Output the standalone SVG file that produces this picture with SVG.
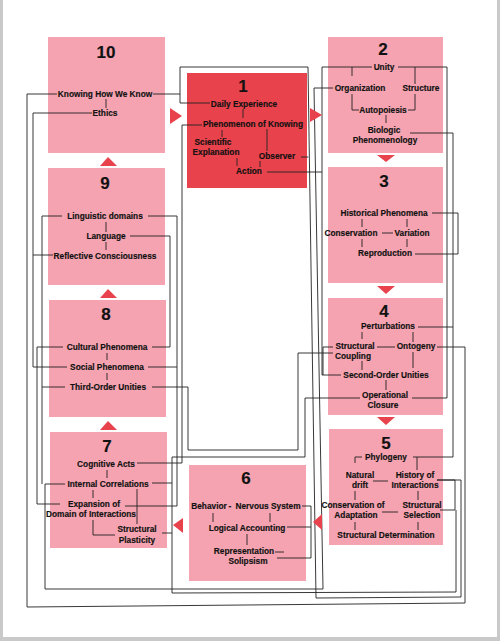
<svg xmlns="http://www.w3.org/2000/svg" width="500" height="641" viewBox="0 0 500 641">
<style>
.box{fill:#f5a3b0}
.red{fill:#e8434c}
.tri{fill:#e8434c}
text{font-family:"Liberation Sans",Arial,sans-serif;font-weight:bold;font-size:8.3px;fill:#111;stroke:#111;stroke-width:0.15;text-anchor:middle}
.num{font-size:17px}
.w{fill:none;stroke:#222;stroke-width:0.9}
</style>
<rect x="0" y="0" width="500" height="641" fill="#c9c9c9"/>
<rect x="3" y="0" width="494" height="637" fill="#ffffff"/>

<g id="n10">
<rect class="box" x="48" y="37" width="117" height="116"/>
<text class="num" x="106" y="58">10</text>
<text x="105" y="97">Knowing How We Know</text>
<text x="105" y="116">Ethics</text>
<path class="w" d="M106 99V108"/>
</g>

<g id="n1">
<rect class="red" x="187" y="73" width="120" height="115"/>
<text class="num" x="243" y="92">1</text>
<text x="244" y="107">Daily Experience</text>
<text x="253" y="127">Phenomenon of Knowing</text>
<text x="213" y="145">Scientific</text>
<text x="216" y="155">Explanation</text>
<text x="277" y="159">Observer</text>
<text x="249" y="174">Action</text>
<path class="w" d="M243 109V118M222 130V137M267 129V151M237 158V166M260 161V167"/>
</g>

<g id="n2">
<rect class="box" x="328" y="37" width="115" height="116"/>
<text class="num" x="383" y="55">2</text>
<text x="384" y="70">Unity</text>
<text x="360" y="91">Organization</text>
<text x="421" y="91">Structure</text>
<text x="383" y="113">Autopoiesis</text>
<text x="384" y="133">Biologic</text>
<text x="385" y="143">Phenomenology</text>
<path class="w" d="M352 67V76M415 67V84M352 94V110H359M408 110H415V94M386 115V123"/>
</g>

<g id="n3">
<rect class="box" x="328" y="167" width="115" height="116"/>
<text class="num" x="384" y="187">3</text>
<text x="384" y="216">Historical Phenomena</text>
<text x="351" y="236">Conservation</text>
<text x="412" y="236">Variation</text>
<text x="385" y="256">Reproduction</text>
<path class="w" d="M362 219V227M407 219V227M382 233H393M362 239V247M407 239V247"/>
</g>

<g id="n4">
<rect class="box" x="328" y="298" width="115" height="117"/>
<text class="num" x="384" y="317">4</text>
<text x="388" y="329">Perturbations</text>
<text x="355" y="349">Structural</text>
<text x="416" y="349">Ontogeny</text>
<text x="353" y="359">Coupling</text>
<text x="386" y="378">Second-Order Unities</text>
<text x="385" y="398">Operational</text>
<text x="383" y="408">Closure</text>
<path class="w" d="M362 332V339M413 332V342M377 347H395M362 361V370M413 352V368M386 380V390M333 347H323V375"/>
</g>

<g id="n5">
<rect class="box" x="329" y="429" width="114" height="116"/>
<text class="num" x="386" y="449">5</text>
<text x="386" y="460">Phylogeny</text>
<text x="360" y="478">Natural</text>
<text x="360" y="488">drift</text>
<text x="415" y="478">History of</text>
<text x="415" y="488">Interactions</text>
<text x="353" y="508">Conservation of</text>
<text x="356" y="518">Adaptation</text>
<text x="422" y="508">Structural</text>
<text x="422" y="518">Selection</text>
<text x="386" y="538">Structural Determination</text>
<path class="w" d="M362 457H355V463M417 457V470M373 481H388M355 491V500M418 491V500M382 512H398M355 522V530M418 522V530"/>
</g>

<g id="n6">
<rect class="box" x="189" y="465" width="117" height="116"/>
<text class="num" x="246" y="484">6</text>
<text x="209" y="509">Behavior</text>
<text x="230" y="509">-</text>
<text x="268" y="509">Nervous System</text>
<text x="247" y="531">Logical Accounting</text>
<text x="244" y="554">Representation</text>
<text x="248" y="564">Solipsism</text>
<path class="w" d="M213 513V522M270 513V522M247 534V545M275 552H284"/>
</g>

<g id="n7">
<rect class="box" x="50" y="432" width="117" height="116"/>
<text class="num" x="107" y="452">7</text>
<text x="106" y="467">Cognitive Acts</text>
<text x="108" y="487">Internal Correlations</text>
<text x="94" y="507">Expansion of</text>
<text x="91" y="517">Domain of Interactions</text>
<text x="137" y="532">Structural</text>
<text x="137" y="543">Plasticity</text>
<path class="w" d="M107 470V478M93 490V498M137 489V524M93 520V535H115"/>
</g>

<g id="n8">
<rect class="box" x="49" y="300" width="117" height="117"/>
<text class="num" x="106" y="320">8</text>
<text x="107" y="350">Cultural Phenomena</text>
<text x="107" y="370">Social Phenomena</text>
<text x="108" y="390">Third-Order Unities</text>
<path class="w" d="M107 353V360M107 373V380"/>
</g>

<g id="n9">
<rect class="box" x="48" y="168" width="117" height="117"/>
<text class="num" x="105" y="189">9</text>
<text x="105" y="219">Linguistic domains</text>
<text x="106" y="239">Language</text>
<text x="105" y="259">Reflective Consciousness</text>
<path class="w" d="M106 222V232M106 242V250"/>
</g>

<g id="connectors">
<path class="w" d="M153 94H180"/>
<path class="w" d="M210 103H180V67H308L316 598L461 597V480H437"/>
<path class="w" d="M301 157H308.4"/>
<path class="w" d="M202 125H182V463H137"/>
<path class="w" d="M267 172H322V67H372"/>
<path class="w" d="M322 172V375H341"/>
<path class="w" d="M333 88H314L323 589L45 589V484H65"/>
<path class="w" d="M398 67H447V398H412"/>
<path class="w" d="M410 133H453V457H413"/>
<path class="w" d="M418 327H453"/>
<path class="w" d="M432 213H458V254H415"/>
<path class="w" d="M437 347H465V603L27 607V94H57"/>
<path class="w" d="M437 480H455V510H440"/>
<path class="w" d="M456 510V592L172 593V457H305V398H360"/>
<path class="w" d="M152 483H172M162 533H172"/>
<path class="w" d="M148 216H177V506H125"/>
<path class="w" d="M148 367H177"/>
<path class="w" d="M130 236H170V347H152"/>
<path class="w" d="M152 387H188V450H298V353H333"/>
<path class="w" d="M302 506H311V558H277M287 527H311"/>
<path class="w" d="M92 113H33V367H67"/>
<path class="w" d="M53 255H33"/>
<path class="w" d="M62 216H42V387H65M42 387V484"/>
<path class="w" d="M63 347H37V504H60"/>
</g>

<g id="arrows">
<polygon class="tri" points="170,108 182,116 170,124"/>
<polygon class="tri" points="310,108 322,115 310,122"/>
<polygon class="tri" points="377,155 395,155 386,162"/>
<polygon class="tri" points="377,286 395,286 386,294"/>
<polygon class="tri" points="377,417 395,417 386,425"/>
<polygon class="tri" points="322,514 322,530 313,522"/>
<polygon class="tri" points="183,518 183,533 173,525"/>
<polygon class="tri" points="100,430 117,430 108,421"/>
<polygon class="tri" points="100,298 117,298 108,289"/>
<polygon class="tri" points="100,166 117,166 108,157"/>
</g>
</svg>
